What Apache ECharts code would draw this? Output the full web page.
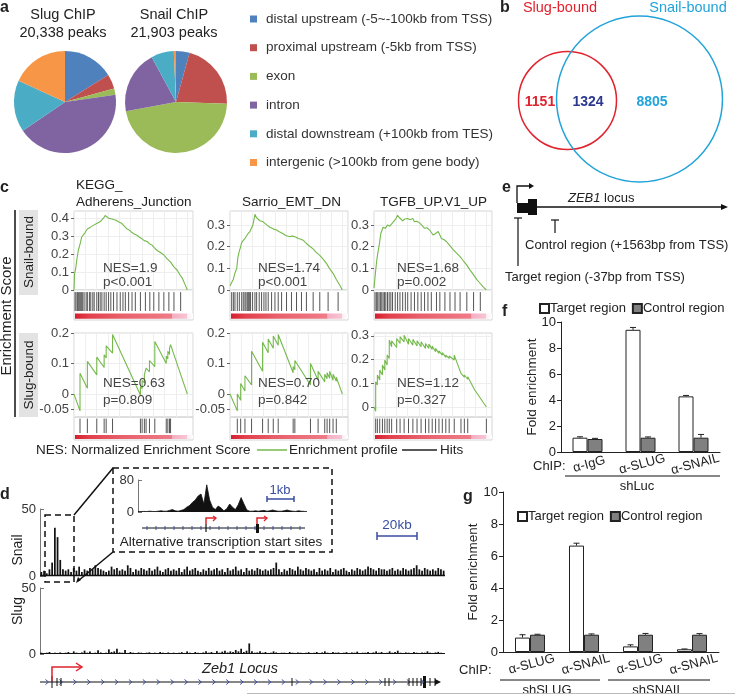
<!DOCTYPE html>
<html><head><meta charset="utf-8">
<script src="https://cdn.jsdelivr.net/npm/echarts@6/dist/echarts.min.js"></script>
<style>html,body{margin:0;padding:0;background:#fff}#c{width:735px;height:694px}</style>
</head><body><div id="c"></div><script>
// ---------------- DATA ----------------
const pieTitles = ['Slug ChIP', 'Snail ChIP'];
const pieSubtitles = ['20,338 peaks', '21,903 peaks'];
const pieCategories = ['distal upstream (-5~-100kb from TSS)', 'proximal upstream (-5kb from TSS)', 'exon', 'intron', 'distal downstream (+100kb from TES)', 'intergenic (>100kb from gene body)'];
const slugPie = [16.1, 4.6, 2.0, 42.8, 16.3, 18.2];
const snailPie = [4.3, 21.3, 46.6, 20.0, 7.2, 0.7];

const vennSets = ['Slug-bound', 'Snail-bound'];
const vennCounts = ['1151', '1324', '8805'];

const gseaTitles = [['KEGG_', 'Adherens_Junction'], ['Sarrio_EMT_DN'], ['TGFB_UP.V1_UP']];
const gseaRowNames = ['Snail-bound', 'Slug-bound'];
const nesValues = ['NES=1.9', 'NES=1.74', 'NES=1.68', 'NES=0.63', 'NES=0.70', 'NES=1.12'];
const pValues = ['p<0.001', 'p<0.001', 'p=0.002', 'p=0.809', 'p=0.842', 'p=0.327'];
const esTicksKegg = [0, 0.1, 0.2, 0.3, 0.4];
const esTicksSnail = [0, 0.1, 0.2, 0.3];
const esTicksSlug = [-0.05, 0, 0.1, 0.2];
const esTicksSlugTgfb = [0, 0.1, 0.2, 0.3];

const esSnailKegg = [[0,0],[0.5,0.09],[1.5,0.12],[2.5,0.17],[3.8,0.22],[4.5,0.21],[5.5,0.26],[6.8,0.295],[8,0.29],[9.8,0.32],[11,0.315],[11.8,0.34],[13,0.335],[14.5,0.35],[15.7,0.345],[17,0.36],[18.5,0.355],[20,0.37],[21.5,0.365],[23,0.38],[24.5,0.375],[26,0.4],[27.5,0.415],[29,0.405],[30.5,0.4],[32,0.39],[33.5,0.395],[35,0.385],[37,0.388],[39.3,0.38],[41,0.372],[42.3,0.37],[44,0.36],[46.7,0.34],[48.5,0.335],[51.2,0.32],[53,0.312],[55.6,0.305],[57.5,0.295],[60,0.285],[62,0.275],[64.5,0.27],[66.5,0.258],[68.9,0.25],[71,0.235],[73.4,0.22],[76,0.21],[79.3,0.195],[82,0.175],[85.2,0.155],[88,0.13],[91.1,0.11],[93.5,0.085],[95.6,0.065],[98,0.03],[100,0]];
const esSnailSarrio = [[0,0.02],[1.5,0.035],[3,0.05],[4.5,0.08],[6,0.1],[7,0.15],[8.3,0.18],[9.5,0.2],[10.4,0.22],[12,0.215],[13.5,0.24],[14.8,0.245],[16,0.26],[17.7,0.27],[19,0.285],[20.4,0.3],[22.2,0.35],[23.5,0.335],[25,0.33],[26.6,0.32],[28,0.325],[29.5,0.315],[31.1,0.31],[33,0.3],[35.5,0.29],[37.5,0.285],[39.5,0.28],[41.4,0.277],[43.5,0.27],[45.5,0.265],[47.3,0.26],[49.5,0.252],[51,0.25],[53.2,0.246],[55,0.25],[56.2,0.254],[58.5,0.245],[60.6,0.238],[62.5,0.236],[65.1,0.23],[67,0.22],[69.5,0.208],[71.5,0.2],[73.9,0.19],[76.5,0.175],[79.9,0.16],[82.5,0.145],[85.8,0.123],[88.5,0.1],[91.7,0.077],[94.5,0.05],[97.6,0.023],[100,0]];
const esSnailTgfb = [[0,0.01],[1.5,0.09],[2.5,0.14],[3.9,0.185],[5,0.22],[6,0.26],[8.1,0.29],[10,0.285],[12,0.3],[14,0.295],[16.5,0.31],[18,0.305],[19.5,0.33],[21,0.345],[22.5,0.335],[25.5,0.32],[27.5,0.328],[30,0.33],[32,0.325],[34.5,0.33],[36,0.315],[38,0.318],[40.5,0.31],[42.5,0.3],[45,0.285],[47,0.288],[49.5,0.277],[52.6,0.254],[54.5,0.26],[57.1,0.27],[58.5,0.255],[60,0.238],[62.5,0.232],[64.6,0.223],[67.5,0.205],[70.6,0.185],[73.5,0.17],[76.6,0.154],[79.5,0.135],[82.6,0.115],[85.5,0.092],[88.6,0.07],[91.5,0.048],[94.6,0.03],[97.5,0.012],[100,0]];
const esSlugKegg = [[0,0],[5.3,-0.055],[5.3,0.068],[11.8,0.019],[11.8,0.107],[20.1,0.063],[20.1,0.121],[26.6,0.087],[26.6,0.129],[28.4,0.118],[28.4,0.158],[34,0.134],[34,0.195],[58.6,-0.003],[58.6,0.025],[60.1,0.018],[60.1,0.045],[62.1,0.037],[62.1,0.064],[63.6,0.058],[63.6,0.085],[66.6,0.073],[66.6,0.11],[71.3,0.09],[71.3,0.172],[81.4,0.1],[81.4,0.125],[82.8,0.115],[82.8,0.14],[84.3,0.13],[84.3,0.15],[85.2,0.145],[85.2,0.162],[100,0]];
const esSlugSarrio = [[0,0],[6.5,-0.055],[6.5,0.0],[9.5,-0.02],[9.5,0.035],[13.3,0.01],[13.3,0.06],[19.2,0.03],[19.2,0.14],[29,0.075],[29,0.17],[34,0.135],[34,0.18],[38.5,0.15],[38.5,0.19],[42.9,0.16],[42.9,0.195],[56.2,0.07],[56.2,0.09],[57.7,0.08],[57.7,0.11],[71.6,0.03],[71.6,0.1],[78.4,0.045],[78.4,0.075],[84.3,0.04],[84.3,0.065],[86.4,0.05],[86.4,0.07],[88.7,0.052],[88.7,0.075],[91.7,0.045],[91.7,0.065],[94.6,0.042],[94.6,0.055],[100,0]];
const esSlugTgfb = [[0,0],[1.5,-0.018],[1.5,0.107],[3,0.093],[3,0.135],[5.1,0.114],[5.1,0.156],[7.5,0.135],[7.5,0.177],[9.6,0.156],[9.6,0.198],[11.7,0.177],[11.7,0.219],[13.6,0.205],[13.6,0.282],[15.7,0.254],[15.7,0.279],[20.2,0.251],[20.2,0.289],[23.2,0.268],[23.2,0.296],[26.8,0.275],[26.8,0.303],[30.7,0.265],[30.7,0.289],[34.6,0.261],[34.6,0.285],[38.3,0.257],[38.3,0.279],[41.9,0.254],[41.9,0.275],[45.8,0.247],[45.8,0.268],[48.8,0.247],[48.8,0.265],[51.8,0.243],[51.8,0.257],[54.8,0.233],[54.8,0.247],[57.8,0.226],[57.8,0.237],[60.8,0.219],[60.8,0.229],[63.9,0.209],[63.9,0.219],[66.9,0.205],[66.9,0.215],[71.4,0.198],[71.4,0.219],[77.4,0.142],[80.4,0.126],[80.4,0.135],[83.4,0.117],[83.4,0.128],[89.5,0.073],[100,0]];

const hitsSnailKegg = [0.9,1.8,3.0,3.8,4.7,5.9,6.8,7.7,8.9,10.7,11.8,13.6,14.8,16.6,17.8,20.1,21.6,23.1,24.6,26.6,28.4,30.5,32.5,34.9,37.9,40.8,43.2,45.3,48.2,51.2,54.1,58.6,63,66.9,70.4,74.9,79.3,83.7,88.2,94.1];
const hitsSnailSarrio = [1.5,3.0,4.4,6.5,8.3,10.4,11.8,13.3,14.2,15.4,16.3,17.2,18.3,20.1,22.2,23.7,26,28.1,30.2,32,34,37,40,42.9,45.9,50.3,54.7,59.2,63.6,68,74,79.9,87.3,96.2];
const hitsSnailTgfb = [0.9,2.1,3.3,4.5,5.7,6.9,8.1,9.3,10.5,12,13.5,15,16.5,18.9,21,23.1,25.5,27.9,30,33,36,39,42,45,48,51,55.6,58.6,63.1,67.6,72.1,76.6,82.6,88.6,94.6];
const hitsSlugKegg = [5.3,11.8,20.1,26.6,28.4,34,58.6,60.1,62.1,63.6,66.6,71.3,81.4,82.8,84.3,85.2];
const hitsSlugSarrio = [6.5,9.5,13.3,19.2,29,34,38.5,42.9,56.2,57.7,71.6,78.4,84.3,86.4,88.7,91.7,94.6];
const hitsSlugTgfb = [1.5,3,5.1,7.5,9.6,11.7,13.6,15.7,20.2,23.2,26.8,30.7,34.6,38.3,41.9,45.8,48.8,51.8,54.8,57.8,60.8,63.9,66.9,71.4,77.4,80.4,83.4,100];

const fCategories = ['α-IgG', 'α-SLUG', 'α-SNAIL'];
const fTarget = [1.1, 9.4, 4.28];
const fTargetErr = [0.07, 0.18, 0.07];
const fControl = [1.0, 1.1, 1.1];
const fControlErr = [0.05, 0.06, 0.25];
const fGroup = 'shLuc';

const gCategories = ['α-SLUG', 'α-SNAIL', 'α-SLUG', 'α-SNAIL'];
const gTarget = [0.9, 6.65, 0.35, 0.17];
const gTargetErr = [0.18, 0.15, 0.1, 0.02];
const gControl = [1.08, 1.08, 1.08, 1.08];
const gControlErr = [0.03, 0.05, 0.08, 0.07];
const gGroups = ['shSLUG', 'shSNAIL'];
const barSeriesNames = ['Target region', 'Control region'];

const snailBins = [3,4,2,5,10,36,29,12,5,4, 5,3,6,4,7,3,5,4,6,5, 8,6,5,4,3,4,7,5,6,4, 5,4,8,6,3,5,4,6,5,4, 6,4,5,7,4,3,5,6,4,5, 4,6,3,5,7,4,5,6,4,3, 5,4,6,4,5,6,4,5,3,6, 4,5,7,4,5,3,6,4,5,4, 6,5,4,5,4,5,6,10,5,3, 5,4,6,5,4,7,5,4,6,5, 4,5,3,6,4,5,4,6,3,5, 4,5,6,4,3,5,4,6,5,4, 5,7,6,5,4,6,5,5,4,5, 6,4,5,4,6,5,4,5,6,8, 5,4,6,5,4,5,4,6,5,4];
const slugBins = [1,0.5,1,1.5,0.5,1,0.8,1.2,0.6,1, 1.5,0.8,2,1,0.6,1.2,2.5,1,1.8,0.8, 1,2.8,1.2,0.6,1,3.5,1.5,2,4,1.2, 1,3,0.8,1.5,1,0.6,1.2,1,0.5,1, 1.3,0.6,1,0.8,1.5,1,0.6,1.2,0.8,1, 0.6,1,1.4,0.8,2,1,0.6,1.5,1,0.8, 1.2,2,1,1.5,0.8,2.2,1,1.8,2.5,1.2, 2,1.5,3,2,4,1.5,2.5,8,2,1, 1.2,2,1,1.5,0.8,1,2,1.2,0.8,1, 1,0.6,1.5,1,0.8,1.2,1,0.6,1,1.4, 0.8,1,1.5,0.8,1.2,2,1,0.8,1.5,1, 1.2,0.6,1,1.4,0.8,1.2,1,1.8,0.8,1, 1,1.5,0.8,1.2,2,1,1.5,0.8,1,2, 1,1.5,2.5,1,0.8,1.2,1,0.6,1.5,1, 0.8,1.2,1,2,1,0.8,1.2,1.6,1,0.6];
const insetBins = [1,1,1.5,1,2,1.5,1,2,3,2, 2,4,6,3,2,4,6,12,16,24, 30,40,45,20,68,30,12,6,15,10, 3,8,20,12,6,18,36,20,5,2, 2,3,2,3,4,2,3,5,3,2, 2,3,5,3,2,1.5,3,2,1.5,1];
const trackNames = ['Snail', 'Slug'];
const trackTicks = [0, 50];
const insetTicks = [0, 80];

// ---------------- STYLE / LAYOUT ----------------
const FF = '"Liberation Sans", Arial, Helvetica, sans-serif';
const pieColors = ['#4F81BD', '#C0504D', '#9BBB59', '#8064A2', '#4BACC6', '#F79646'];
const GREEN = '#74B94B', BLUE = '#3A4DA0', RED = '#E0232E', CYAN = '#22A3D9';

function txt(x, y, text, o) {
  o = o || {};
  const st = {text: text, fontSize: o.size || 13, fontFamily: FF, fontWeight: o.bold ? 'bold' : 'normal',
    fontStyle: o.italic ? 'italic' : 'normal', fill: o.color || '#222', align: o.align || 'left', verticalAlign: o.va || 'middle'};
  if (o.rich) st.rich = o.rich;
  return {type: 'text', x: x, y: y, rotation: o.rot || 0, silent: true, z: 10, style: st};
}
function ln(x1, y1, x2, y2, o) {
  o = o || {};
  return {type: 'line', silent: true, z: 10, shape: {x1: x1, y1: y1, x2: x2, y2: y2},
    style: {stroke: o.color || '#111', lineWidth: o.w || 1, lineDash: o.dash || null}};
}
function pl(points, o) {
  o = o || {};
  return {type: 'polyline', silent: true, z: 10, shape: {points: points}, style: {stroke: o.color || '#111', lineWidth: o.w || 1, fill: null}};
}
function pg(points, color) {
  return {type: 'polygon', silent: true, z: 10, shape: {points: points}, style: {fill: color || '#111'}};
}
function rc(x, y, w, h, fill, stroke) {
  return {type: 'rect', silent: true, z: 9, shape: {x: x, y: y, width: w, height: h}, style: {fill: fill, stroke: stroke || null}};
}

const grids = [], xAxes = [], yAxes = [], series = [], G = [];

// ---------- panel a: pies ----------
const pieCenters = [[65, 102], [176, 102]];
[slugPie, snailPie].forEach((vals, k) => {
  series.push({type: 'pie', center: pieCenters[k], radius: 51, startAngle: 90, clockwise: true, silent: true,
    label: {show: false}, labelLine: {show: false}, itemStyle: {borderWidth: 0},
    data: pieCategories.map((n, i) => ({name: n, value: vals[i], itemStyle: {color: pieColors[i]}}))});
  G.push(txt(pieCenters[k][0] - 2, 15, pieTitles[k], {size: 14.5, align: 'center'}));
  G.push(txt(pieCenters[k][0] - 2, 33, pieSubtitles[k], {size: 14.5, align: 'center'}));
});
G.push(txt(0, 8, 'a', {bold: true, size: 16}));

// ---------- panel b: venn ----------
G.push(txt(500, 8, 'b', {bold: true, size: 16}));
G.push({type: 'circle', silent: true, z: 10, shape: {cx: 567.5, cy: 100.5, r: 49}, style: {fill: null, stroke: RED, lineWidth: 1.5}});
G.push({type: 'circle', silent: true, z: 10, shape: {cx: 639.5, cy: 99, r: 83}, style: {fill: null, stroke: CYAN, lineWidth: 1.5}});
G.push(txt(560, 8, vennSets[0], {size: 14.5, color: RED, align: 'center'}));
G.push(txt(688, 8, vennSets[1], {size: 14.5, color: CYAN, align: 'center'}));
G.push(txt(540, 102, vennCounts[0], {size: 14, bold: true, color: RED, align: 'center'}));
G.push(txt(588, 102, vennCounts[1], {size: 14, bold: true, color: '#2B3990', align: 'center'}));
G.push(txt(652, 102, vennCounts[2], {size: 14, bold: true, color: CYAN, align: 'center'}));

// ---------- panel c: GSEA ----------
const gseaSets = [
  {es: esSnailKegg, hits: hitsSnailKegg, ticks: esTicksKegg, min: 0, max: 0.44},
  {es: esSnailSarrio, hits: hitsSnailSarrio, ticks: esTicksSnail, min: 0, max: 0.365},
  {es: esSnailTgfb, hits: hitsSnailTgfb, ticks: esTicksSnail, min: 0, max: 0.365},
  {es: esSlugKegg, hits: hitsSlugKegg, ticks: esTicksSlug, min: -0.075, max: 0.2},
  {es: esSlugSarrio, hits: hitsSlugSarrio, ticks: esTicksSlug, min: -0.075, max: 0.2},
  {es: esSlugTgfb, hits: hitsSlugTgfb, ticks: esTicksSlugTgfb, min: -0.042, max: 0.312}
];
const colLeft = [74, 230, 374], colW = [119, 118, 118];
const rowTop = [211, 333], rowH = [79, 84], hitsH = [30, 23];
const nesX = [103, 258, 397], nesY = [[268, 282], [383, 400]];
const barGradient = () => new echarts.graphic.LinearGradient(0, 0, 1, 0, [
  {offset: 0, color: '#D61F2E'}, {offset: 0.12, color: '#E2404C'}, {offset: 0.4, color: '#E8606B'},
  {offset: 0.82, color: '#EE7C87'}, {offset: 0.826, color: '#F5AEC1'}, {offset: 0.945, color: '#F8C4D3'},
  {offset: 0.952, color: '#FCEEF2'}, {offset: 1, color: '#FFFFFF'}]);
gseaSets.forEach((s, i) => {
  const row = i < 3 ? 0 : 1, col = i % 3;
  const gi = grids.length;
  grids.push({left: colLeft[col], top: rowTop[row], width: colW[col], height: rowH[row], show: true, borderColor: '#d4d4d4', borderWidth: 1, backgroundColor: '#fff'});
  grids.push({left: colLeft[col], top: rowTop[row] + rowH[row], width: colW[col], height: hitsH[row], show: true, borderColor: '#d4d4d4', borderWidth: 1});
  xAxes.push({gridIndex: gi, type: 'value', min: 0, max: 105, interval: 10, axisLine: {show: false}, axisTick: {show: false}, axisLabel: {show: false},
    splitLine: {show: true, lineStyle: {color: '#eeeeee', width: 1}}});
  xAxes.push({gridIndex: gi + 1, type: 'value', min: 0, max: 105, show: false});
  yAxes.push({gridIndex: gi, type: 'value', min: s.min, max: s.max, splitNumber: 8,
    axisLine: {show: false},
    axisTick: {show: true, length: 3, customValues: s.ticks, lineStyle: {color: '#666'}},
    axisLabel: {customValues: s.ticks, fontSize: 13, fontFamily: FF, color: '#444', margin: 5, formatter: v => String(+(+v).toFixed(2))},
    splitLine: {show: true, lineStyle: {color: '#eeeeee', width: 1}}});
  yAxes.push({gridIndex: gi + 1, type: 'value', min: 0, max: 1, show: false});
  series.push({type: 'line', xAxisIndex: gi, yAxisIndex: gi, data: s.es, showSymbol: false, silent: true,
    lineStyle: {color: GREEN, width: 1.1}, z: 3});
  series.push({type: 'custom', xAxisIndex: gi + 1, yAxisIndex: gi + 1, silent: true, data: s.hits.map(h => [h]),
    renderItem: (p, api) => {
      const a = api.coord([api.value(0), 0.3]), b = api.coord([api.value(0), 0.93]);
      return {type: 'line', shape: {x1: a[0], y1: a[1], x2: b[0], y2: b[1]}, style: {stroke: '#555', lineWidth: 1}};
    }});
  series.push({type: 'custom', xAxisIndex: gi + 1, yAxisIndex: gi + 1, silent: true, data: [[0, 105]],
    renderItem: (p, api) => {
      const a = api.coord([api.value(0), 0.22]), b = api.coord([api.value(1), 0.04]);
      return {type: 'rect', shape: {x: a[0] + 1, y: a[1], width: b[0] - a[0] - 1, height: b[1] - a[1]}, style: {fill: barGradient()}};
    }});
  G.push(txt(nesX[col], nesY[row][0], nesValues[i], {size: 13.5, color: '#444'}));
  G.push(txt(nesX[col], nesY[row][1], pValues[i], {size: 13.5, color: '#444'}));
});
G.push(txt(0, 188, 'c', {bold: true, size: 16}));
G.push(txt(76, 185, gseaTitles[0][0], {size: 13.5}));
G.push(txt(76, 202, gseaTitles[0][1], {size: 13.5}));
G.push(txt(242, 202, gseaTitles[1][0], {size: 13.5}));
G.push(txt(380, 202, gseaTitles[2][0], {size: 13.5}));
G.push(ln(15, 210, 15, 417, {w: 1.5}));
G.push(txt(7, 316, 'Enrichment Score', {size: 15, align: 'center', rot: Math.PI / 2}));
G.push(rc(19, 210, 19, 85, '#E3E3E3'));
G.push(rc(19, 333, 19, 84, '#E3E3E3'));
G.push(txt(29, 252, gseaRowNames[0], {size: 13.5, align: 'center', rot: Math.PI / 2}));
G.push(txt(29, 375, gseaRowNames[1], {size: 13.5, align: 'center', rot: Math.PI / 2}));
G.push(txt(36, 450, 'NES: Normalized Enrichment Score', {size: 13.5}));
G.push(ln(257, 450, 287, 450, {color: GREEN, w: 1.5}));
G.push(txt(289, 450, 'Enrichment profile', {size: 13.5}));
G.push(ln(402, 450, 437, 450, {color: '#222', w: 1.5}));
G.push(txt(440, 450, 'Hits', {size: 13.5}));

// ---------- panel e ----------
G.push(txt(502, 188, 'e', {bold: true, size: 16}));
G.push(pl([[517, 203], [517, 186], [530, 186]], {w: 1.3}));
G.push(pg([[534, 186], [529, 183], [529, 189]]));
G.push(rc(517, 203, 11, 10, '#111'));
G.push(rc(528, 199, 9, 16, '#111'));
G.push(ln(537, 207, 723, 207, {w: 1.5}));
G.push(pg([[728, 207], [721, 204], [721, 210]]));
G.push(txt(568, 198, '{i|ZEB1} locus', {size: 13, rich: {i: {fontStyle: 'italic', fontSize: 13, fontFamily: FF}}}));
G.push(ln(518, 218, 518, 266, {w: 1.2}));
G.push(ln(514, 218, 522, 218, {w: 1.2}));
G.push(ln(555, 220, 555, 233, {w: 1.2}));
G.push(ln(551, 220, 559, 220, {w: 1.2}));
G.push(txt(525, 245, 'Control region (+1563bp from TSS)', {size: 13}));
G.push(txt(505, 277, 'Target region (-37bp from TSS)', {size: 13}));

// ---------- panels f and g: bar charts ----------
function errRender(off) {
  return (p, api) => {
    const a = api.coord([api.value(0), api.value(1)]), b = api.coord([api.value(0), api.value(2)]);
    const x = a[0] + off;
    return {type: 'group', children: [
      {type: 'line', shape: {x1: x, y1: a[1], x2: x, y2: b[1]}, style: {stroke: '#222', lineWidth: 1}},
      {type: 'line', shape: {x1: x - 3, y1: b[1], x2: x + 3, y2: b[1]}, style: {stroke: '#222', lineWidth: 1}}]};
  };
}
function barChart(cats, tgt, tgtErr, ctl, ctlErr, box) {
  const gi = grids.length;
  grids.push({left: box[0], top: box[1], width: box[2], height: box[3]});
  xAxes.push({gridIndex: gi, type: 'category', data: cats,
    axisLine: {lineStyle: {color: '#222', width: 1}}, axisTick: {length: 4, lineStyle: {color: '#222'}},
    axisLabel: {interval: 0, rotate: 15, align: 'center', verticalAlign: 'top', margin: 6, fontSize: 13, fontFamily: FF, color: '#222'}});
  yAxes.push({gridIndex: gi, type: 'value', min: 0, max: 10, interval: 2,
    axisLine: {show: true, lineStyle: {color: '#222', width: 1}}, axisTick: {show: true, length: 4, lineStyle: {color: '#222'}},
    axisLabel: {fontSize: 13, fontFamily: FF, color: '#222', margin: 5}, splitLine: {show: false}});
  series.push({type: 'bar', name: barSeriesNames[0], xAxisIndex: gi, yAxisIndex: gi, data: tgt, barWidth: 15, barGap: '0%', silent: true,
    itemStyle: {color: '#fff', borderColor: '#222', borderWidth: 1}});
  series.push({type: 'bar', name: barSeriesNames[1], xAxisIndex: gi, yAxisIndex: gi, data: ctl, barWidth: 15, barGap: '0%', silent: true,
    itemStyle: {color: '#808080', borderColor: '#222', borderWidth: 1}});
  series.push({type: 'custom', xAxisIndex: gi, yAxisIndex: gi, silent: true, z: 5, data: tgt.map((v, i) => [i, v, v + tgtErr[i]]), renderItem: errRender(-7.5)});
  series.push({type: 'custom', xAxisIndex: gi, yAxisIndex: gi, silent: true, z: 5, data: ctl.map((v, i) => [i, v, v + ctlErr[i]]), renderItem: errRender(7.5)});
}
barChart(fCategories, fTarget, fTargetErr, fControl, fControlErr, [561, 322, 159, 130]);
barChart(gCategories, gTarget, gTargetErr, gControl, gControlErr, [503, 492, 216, 160]);
G.push(txt(502, 312, 'f', {bold: true, size: 16}));
G.push(txt(532, 387, 'Fold enrichment', {size: 13.5, align: 'center', rot: Math.PI / 2}));
G.push(txt(533, 466, 'ChIP:', {size: 13}));
G.push(ln(565, 476, 720, 476, {w: 1}));
G.push(txt(637, 486, fGroup, {size: 13, align: 'center'}));
G.push(txt(463, 497, 'g', {bold: true, size: 16}));
G.push(txt(473, 572, 'Fold enrichment', {size: 13.5, align: 'center', rot: Math.PI / 2}));
G.push(txt(459, 670, 'ChIP:', {size: 13}));
G.push(ln(500, 680, 600, 680, {w: 1}));
G.push(ln(608, 680, 710, 680, {w: 1}));
G.push(txt(547, 690, gGroups[0], {size: 13, align: 'center'}));
G.push(txt(658, 690, gGroups[1], {size: 13, align: 'center'}));

// ---------- panel d: tracks ----------
function track(bins, ticks, box, isArea) {
  const gi = grids.length;
  grids.push({left: box[0], top: box[1], width: box[2], height: box[3]});
  xAxes.push({gridIndex: gi, type: 'category', data: bins.map((v, i) => i), show: false, boundaryGap: !isArea});
  yAxes.push({gridIndex: gi, type: 'value', min: ticks[0], max: ticks[1], interval: ticks[1],
    axisLine: {show: true, lineStyle: {color: '#777', width: 1}}, axisTick: {show: true, inside: true, length: 4, lineStyle: {color: '#777'}},
    axisLabel: {fontSize: 13, fontFamily: FF, color: '#333', margin: 4}, splitLine: {show: false}});
  if (isArea) {
    series.push({type: 'line', xAxisIndex: gi, yAxisIndex: gi, data: bins, showSymbol: false, silent: true,
      lineStyle: {color: '#111', width: 0.8}, areaStyle: {color: '#111', opacity: 1}});
  } else {
    series.push({type: 'bar', xAxisIndex: gi, yAxisIndex: gi, data: bins, barCategoryGap: '35%', silent: true, itemStyle: {color: '#111'}});
  }
}
track(snailBins, trackTicks, [40, 509, 405, 67], false);
track(slugBins, trackTicks, [40, 588, 405, 66], false);
track(insetBins, insetTicks, [138, 480, 169, 32], true);
G.push(txt(0, 495, 'd', {bold: true, size: 16}));
G.push(txt(18, 550, trackNames[0], {size: 14, align: 'center', rot: Math.PI / 2}));
G.push(txt(18, 611, trackNames[1], {size: 14, align: 'center', rot: Math.PI / 2}));
// baseline under the tracks
G.push(ln(40, 575.5, 445, 575.5, {color: '#111', w: 1.5}));
G.push(ln(40, 653.5, 445, 653.5, {color: '#111', w: 1}));
// dashed zoom boxes
G.push({type: 'rect', silent: true, z: 10, shape: {x: 45, y: 515, width: 29, height: 67}, style: {fill: null, stroke: '#111', lineWidth: 1.5, lineDash: [6, 4]}});
G.push({type: 'rect', silent: true, z: 10, shape: {x: 113, y: 468, width: 219, height: 84}, style: {fill: null, stroke: '#111', lineWidth: 1.5, lineDash: [6, 4]}});
G.push(ln(74, 515, 113, 468, {w: 1.5}));
G.push(ln(113, 552, 78, 581, {w: 1.5}));
G.push(pg([[76, 583], [78, 577], [81, 580]]));
// scale bars
G.push(ln(377, 536, 417, 536, {color: BLUE, w: 1.5}));
G.push(ln(377, 532, 377, 540, {color: BLUE, w: 1.5}));
G.push(ln(417, 532, 417, 540, {color: BLUE, w: 1.5}));
G.push(txt(397, 525, '20kb', {size: 13.5, color: BLUE, align: 'center'}));
G.push(ln(267, 499, 294, 499, {color: BLUE, w: 1.5}));
G.push(ln(267, 496, 267, 502, {color: BLUE, w: 1.5}));
G.push(ln(294, 496, 294, 502, {color: BLUE, w: 1.5}));
G.push(txt(280, 490, '1kb', {size: 13, color: BLUE, align: 'center'}));
// inset gene model
G.push(ln(142, 528, 305, 528, {w: 1}));
for (let x = 147; x <= 302; x += 9) G.push(ln(x, 526, x, 530, {color: BLUE, w: 1}));
G.push(ln(206, 524, 206, 532, {w: 1.2}));
G.push(rc(256, 524, 3, 9, '#111'));
[206, 257].forEach(x => {
  G.push(pl([[x, 524], [x, 518], [x + 10, 518]], {color: RED, w: 1.5}));
  G.push(pl([[x + 7, 516], [x + 10, 518], [x + 7, 521]], {color: RED, w: 1.3}));
});
G.push(txt(221, 542, 'Alternative transcription start sites', {size: 13.5, align: 'center'}));
// main gene model
G.push(ln(40, 682, 436, 682, {w: 1}));
G.push(pg([[441, 682], [435, 679], [435, 685]]));
for (let x = 47; x <= 432; x += 13.9) G.push(pl([[x - 1.5, 679.5], [x + 1.5, 682], [x - 1.5, 684.5]], {color: BLUE, w: 1}));
[52, 57, 61, 292, 385, 389, 409, 413, 417, 421, 430, 435].forEach((x, i) => G.push(ln(x, i === 0 ? 676 : 678, x, i === 0 ? 688 : 686, {w: 1})));
G.push(rc(423, 676, 3, 12, '#111'));
G.push(pl([[52, 681], [52, 667], [81, 667]], {color: RED, w: 1.5}));
G.push(pl([[76, 663], [82, 667], [76, 671]], {color: RED, w: 1.5}));
G.push(txt(240, 669, '{i|Zeb1 Locus}', {size: 14.5, align: 'center', rich: {i: {fontStyle: 'italic', fontSize: 14.5, fontFamily: FF}}}));
G.push(ln(247, 693.5, 735, 693.5, {color: '#bbb', w: 1}));

const option = {
  animation: false,
  backgroundColor: '#fff',
  textStyle: {fontFamily: FF},
  grid: grids, xAxis: xAxes, yAxis: yAxes, series: series,
  legend: [
    {data: pieCategories, orient: 'vertical', left: 245, top: 7, itemWidth: 7, itemHeight: 7, itemGap: 14.7, icon: 'rect', selectedMode: false,
      textStyle: {fontSize: 13.5, fontFamily: FF, color: '#333', lineHeight: 14, padding: [0, 0, 0, 4]}},
    {data: barSeriesNames, orient: 'horizontal', left: 534, top: 297, itemWidth: 9, itemHeight: 9, itemGap: 6, icon: 'rect', selectedMode: false,
      textStyle: {fontSize: 13, fontFamily: FF, color: '#222', padding: [0, 0, 0, -4]}},
    {data: barSeriesNames, orient: 'horizontal', left: 512, top: 505, itemWidth: 9, itemHeight: 9, itemGap: 6, icon: 'rect', selectedMode: false,
      textStyle: {fontSize: 13, fontFamily: FF, color: '#222', padding: [0, 0, 0, -4]}}
  ],
  graphic: {elements: G}
};
const chart = echarts.init(document.getElementById('c'), null, {renderer: 'canvas'});
chart.setOption(option);
</script></body></html>
